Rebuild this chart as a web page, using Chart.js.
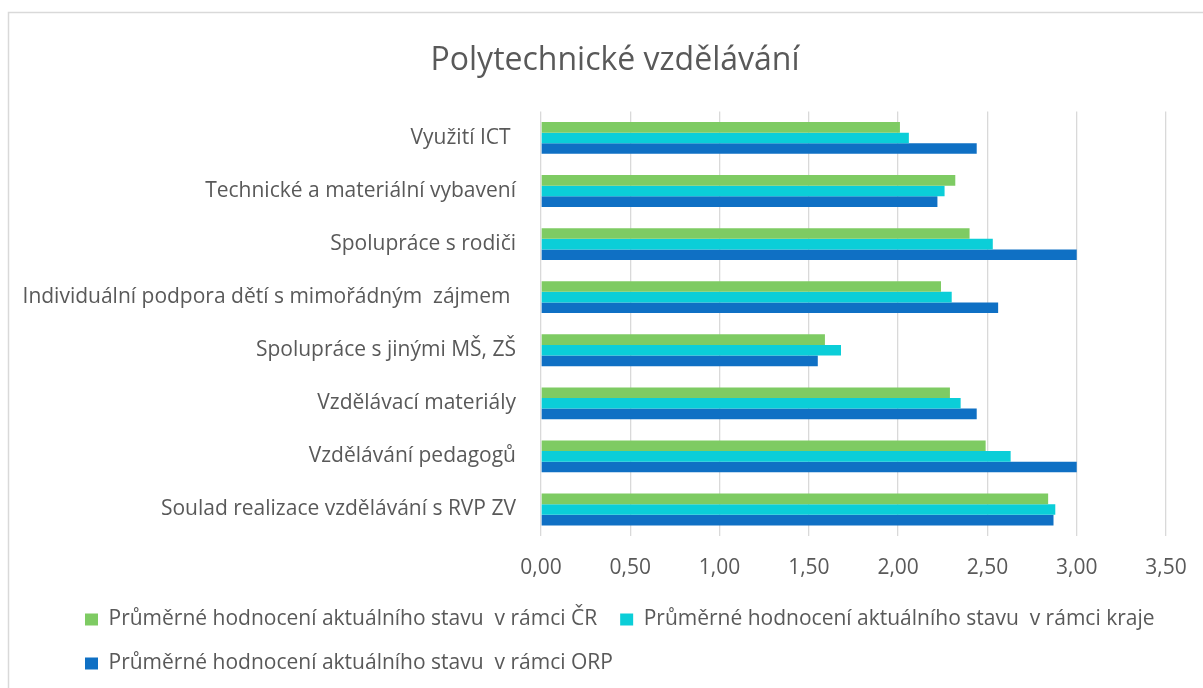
<!DOCTYPE html>
<html>
<head>
<meta charset="utf-8">
<script src="https://cdn.jsdelivr.net/npm/chart.js@4"></script>
<style>
  html, body { margin: 0; padding: 0; background: #fff; }
  #wrap { width: 1203px; height: 688px; }
</style>
</head>
<body>
<div id="wrap"><canvas id="chart" width="1203" height="688"></canvas></div>
<script>
// data
const categories = [
  'Využití ICT ',
  'Technické a materiální vybavení',
  'Spolupráce s rodiči',
  'Individuální podpora dětí s mimořádným  zájmem ',
  'Spolupráce s jinými MŠ, ZŠ',
  'Vzdělávací materiály',
  'Vzdělávání pedagogů',
  'Soulad realizace vzdělávání s RVP ZV'
];
const seriesNames = [
  'Průměrné hodnocení aktuálního stavu  v rámci ČR',
  'Průměrné hodnocení aktuálního stavu  v rámci kraje',
  'Průměrné hodnocení aktuálního stavu  v rámci ORP'
];
const valuesCR    = [2.01, 2.32, 2.40, 2.24, 1.59, 2.29, 2.49, 2.84];
const valuesKraj  = [2.06, 2.26, 2.53, 2.30, 1.68, 2.35, 2.63, 2.88];
const valuesORP   = [2.44, 2.22, 3.00, 2.56, 1.55, 2.44, 3.00, 2.87];
const xTicks = [0, 0.5, 1, 1.5, 2, 2.5, 3, 3.5];

const textColor = '#595959';
const gridColor = '#d9d9d9';
const font = "'Open Sans', 'Noto Sans', sans-serif";

// light frame round the whole chart
const framePlugin = {
  id: 'frame',
  beforeDraw(chart) {
    const c = chart.ctx;
    c.save();
    c.strokeStyle = gridColor;
    c.lineWidth = 1.5;
    c.strokeRect(8.5, 12.5, 1400, 1000);
    c.restore();
  }
};

// title is centred a bit right of the canvas and the legend starts under the labels
const shiftPlugin = {
  id: 'shift',
  afterLayout(chart) {
    if (chart.titleBlock) chart.titleBlock.left = 64;
    if (chart.legend) {
      chart.legend.left = 62;
      chart.legend.right = 1200;
    }
  }
};

new Chart(document.getElementById('chart'), {
  type: 'bar',
  data: {
    labels: categories,
    datasets: [
      { label: seriesNames[0], data: valuesCR, backgroundColor: '#7ecb63' },
      { label: seriesNames[1], data: valuesKraj, backgroundColor: '#0bced8' },
      { label: seriesNames[2], data: valuesORP, backgroundColor: '#0f70c4' }
    ]
  },
  options: {
    indexAxis: 'y',
    responsive: false,
    animation: false,
    categoryPercentage: 0.6,
    barPercentage: 1.0,
    layout: { padding: { left: 20, right: 37, top: 20, bottom: 4 } },
    plugins: {
      title: {
        display: true,
        text: 'Polytechnické vzdělávání',
        color: textColor,
        font: { family: font, size: 32, weight: 'normal' },
        padding: { top: 22, bottom: 31 }
      },
      legend: {
        position: 'bottom',
        align: 'start',
        labels: {
          color: textColor,
          font: { family: font, size: 21 },
          boxWidth: 13,
          boxHeight: 12,
          padding: 23
        }
      },
      tooltip: { enabled: false }
    },
    scales: {
      x: {
        min: 0,
        max: 3.5,
        afterBuildTicks(axis) { axis.ticks = xTicks.map(v => ({ value: v })); },
        afterFit(axis) {
          axis.height = 50;
          axis.paddingLeft = 0;
          axis.paddingRight = 0;
        },
        ticks: {
          color: textColor,
          font: { family: font, size: 21 },
          padding: 19,
          callback: v => Number(v).toFixed(2).replace('.', ',')
        },
        grid: { color: gridColor, lineWidth: 1.3, drawTicks: false },
        border: { display: false }
      },
      y: {
        afterFit(axis) { axis.width = 521; },
        ticks: {
          color: textColor,
          font: { family: font, size: 21 },
          padding: 25
        },
        grid: { display: false, drawTicks: false },
        border: { display: false }
      }
    }
  },
  plugins: [framePlugin, shiftPlugin]
});
</script>
</body>
</html>
